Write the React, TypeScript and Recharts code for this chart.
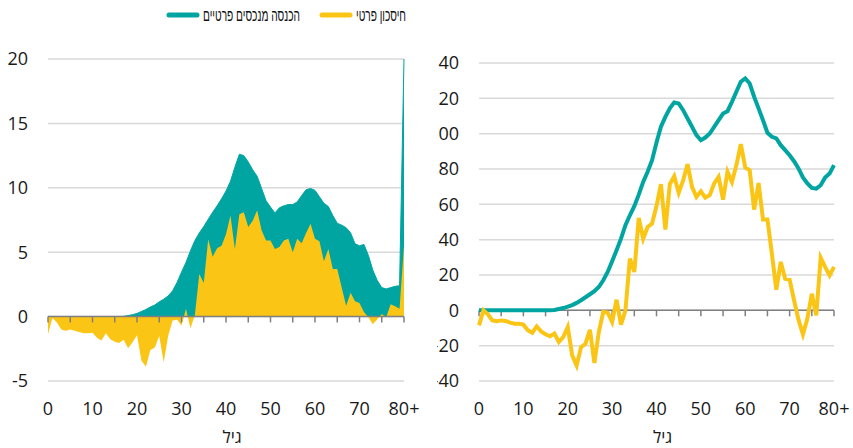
import { ComposedChart, Area, Line, XAxis, YAxis, CartesianGrid, ReferenceLine } from "recharts";

const TEAL = "#00a5a2";
const YELLOW = "#fac515";
const AXIS = "#808080";
const GRID = "#d9d9d9";
const TEXT = "#1a1a1a";
const FONT = "'Open Sans', sans-serif";

const AGES = [
  0, 1, 2, 3, 4, 5, 6, 7, 8, 9, 10, 11, 12, 13, 14, 15, 16, 17, 18, 19, 20,
  21, 22, 23, 24, 25, 26, 27, 28, 29, 30, 31, 32, 33, 34, 35, 36, 37, 38, 39, 40,
  41, 42, 43, 44, 45, 46, 47, 48, 49, 50, 51, 52, 53, 54, 55, 56, 57, 58, 59, 60,
  61, 62, 63, 64, 65, 66, 67, 68, 69, 70, 71, 72, 73, 74, 75, 76, 77, 78, 79, 80,
];

// left panel
const LEFT_INCOME = [
  0, 0, 0, 0, 0, 0, 0, 0, 0, 0, 0, 0, 0, 0, 0, 0, 0, 0.02, 0.08, 0.15, 0.25,
  0.4, 0.55, 0.75, 0.9, 1.15, 1.35, 1.6, 2.0, 2.65, 3.45, 4.2, 5.1, 5.9, 6.5, 7.0, 7.55, 8.1, 8.6, 9.15, 9.75,
  10.5, 11.6, 12.6, 12.5, 12.0, 11.4, 10.9, 9.95, 9.0, 8.5, 8.05, 8.45, 8.6, 8.7, 8.7, 8.9, 9.4, 9.85, 9.95, 9.8,
  9.3, 8.8, 8.55, 7.85, 7.25, 7.1, 6.9, 6.5, 5.65, 5.5, 5.6, 4.75, 3.6, 2.8, 2.25, 2.15, 2.25, 2.35, 2.4, 20,
];
const LEFT_SAVINGS = [
  -1.35, -0.1, -0.45, -1.0, -1.1, -1.0, -1.1, -1.2, -1.3, -1.3, -1.25, -1.65, -1.85, -1.3, -1.75, -1.95, -2.05, -1.8, -2.45, -2.0, -1.45,
  -3.4, -3.9, -2.6, -2.4, -1.5, -3.55, -1.5, -0.3, -0.25, -0.7, 0.6, -0.9, 0.1, 3.3, 2.6, 6.0, 4.65, 5.3, 5.5, 6.4,
  7.85, 5.25, 7.95, 8.1, 6.95, 7.45, 8.25, 6.7, 5.9, 5.9, 5.25, 5.4, 5.9, 6.05, 5.0, 6.05, 5.7, 6.5, 7.2, 6.05,
  5.85, 4.3, 5.25, 3.7, 3.7, 2.25, 0.85, 1.85, 1.2, 1.05, 0.35, -0.05, -0.6, -0.2, 0.2, -0.05, 0.95, 0.8, 0.6, 5.5,
];

// right panel
const RIGHT_INCOME = [
  0, 0, 0, 0, 0, 0, 0, 0, 0, 0, 0, 0, 0, 0, 0, 0, 0, 0.2, 0.75, 1.3, 2.1,
  3, 4.2, 5.7, 7.4, 9.1, 10.8, 13.2, 17, 21.7, 27.8, 34, 40.6, 48.2, 53.8, 59, 65.5, 72.7, 78.4, 85, 95,
  103.9, 109.5, 114.3, 117.7, 117.1, 113.3, 108.6, 103.9, 99.2, 96.3, 97.8, 100.1, 103.9, 107.6, 111.4, 112.7, 118, 123.7, 129.4, 131.3,
  128.4, 120.9, 114.3, 107.6, 100.5, 98.2, 97.3, 93.5, 90.7, 87.8, 84.4, 80.3, 75.2, 71.8, 69.3, 68.9, 70.8, 75.2, 77.4, 82.2,
];
const RIGHT_SAVINGS = [
  -8.5, 0, -2.3, -5.7, -6.2, -5.7, -6, -7, -7.6, -7.6, -8.1, -11.3, -12.7, -9.1, -11.9, -13.6, -14.7, -13.2, -17.9, -15.1, -9.4,
  -25.5, -31.2, -20.8, -18.9, -11, -29.8, -12.3, -0.9, -1.3, -6.6, 6, -8.1, 0, 29.3, 21.7, 52.3, 40.6, 47.2, 49.1, 59,
  71.4, 45.7, 71.4, 75.9, 66.5, 73.6, 82.7, 69.9, 64.2, 67.4, 63.8, 65.2, 71.8, 75.5, 62.7, 78.4, 72.7, 82.2, 94.1, 80.8,
  79.3, 57, 72.1, 51.4, 51.4, 32.1, 11.7, 27.4, 17.9, 17.4, 5.7, -5.3, -13.6, -4.7, 9.4, -2.8, 29.8, 24.6, 19.8, 24.6,
];

const X_TICKS = [0, 10, 20, 30, 40, 50, 60, 70, 80];
const MINOR_X_TICKS = [0, 5, 10, 15, 20, 25, 30, 35, 40, 45, 50, 55, 60, 65, 70, 75, 80];
const LEFT_Y_TICKS = [-5, 0, 5, 10, 15, 20];
const RIGHT_Y_TICKS = [-40, -20, 0, 20, 40, 60, 80, 100, 120, 140];

const LEGEND = [
  { name: "הכנסה מנכסים פרטיים", color: TEAL, x: 167, textWidth: 97 },
  { name: "חיסכון פרטי", color: YELLOW, x: 320, textWidth: 50 },
];

const leftData = AGES.map((age, i) => ({ age, income: LEFT_INCOME[i], savings: LEFT_SAVINGS[i] }));
const rightData = AGES.map((age, i) => ({ age, income: RIGHT_INCOME[i], savings: RIGHT_SAVINGS[i] }));

const ageLabel = (v: number) => (v === 80 ? "80+" : String(v));
const tickStyle = { fill: TEXT, fontSize: 18, fontFamily: FONT };

function Legend() {
  return (
    <svg width={853} height={30} style={{ position: "absolute", left: 0, top: 0 }}>
      {LEGEND.map((item) => (
        <g key={item.name}>
          <line x1={item.x + 2} y1={15} x2={item.x + 30} y2={15} stroke={item.color} strokeWidth={5} strokeLinecap="round" />
          <text
            x={item.x + 36}
            y={21}
            fontSize={17}
            fontFamily="'Liberation Sans', Arial, sans-serif"
            fill="#111"
            textLength={item.textWidth}
            lengthAdjust="spacingAndGlyphs"
          >
            {item.name}
          </text>
        </g>
      ))}
    </svg>
  );
}

export default function App() {
  return (
    <div style={{ position: "absolute", left: 0, top: 0, width: 853, height: 448, background: "#fff", overflow: "hidden" }}>
      <Legend />

      <div style={{ position: "absolute", left: 0, top: 0 }}>
        <ComposedChart width={426} height={448} data={leftData} margin={{ top: 59, right: 22, bottom: 0, left: 0 }}>
          <CartesianGrid vertical={false} stroke={GRID} strokeWidth={1.5} />
          <XAxis
            dataKey="age"
            type="number"
            domain={[0, 80]}
            ticks={X_TICKS}
            interval={0}
            tickFormatter={ageLabel}
            axisLine={false}
            tickLine={false}
            tickSize={0}
            tickMargin={21}
            height={67}
            tick={tickStyle}
            label={{ value: "גיל", position: "insideBottom", offset: 5, dx: 6, fill: TEXT, fontSize: 17, fontFamily: FONT }}
          />
          <YAxis
            type="number"
            domain={[-5, 20]}
            ticks={LEFT_Y_TICKS}
            width={48}
            axisLine={false}
            tickLine={false}
            tickSize={0}
            tickMargin={20}
            tick={tickStyle}
          />
          <Area type="linear" dataKey="income" baseValue={0} stroke={TEAL} strokeWidth={1} fill={TEAL} fillOpacity={1} dot={false} activeDot={false} isAnimationActive={false} />
          <Area type="linear" dataKey="savings" baseValue={0} stroke="none" fill={YELLOW} fillOpacity={1} dot={false} activeDot={false} isAnimationActive={false} />
          <ReferenceLine y={0} stroke={AXIS} strokeWidth={1.5} />
          {MINOR_X_TICKS.map((a) => (
            <ReferenceLine key={a} segment={[{ x: a, y: 0 }, { x: a, y: -0.45 }]} stroke={AXIS} strokeWidth={1.5} />
          ))}
        </ComposedChart>
      </div>

      <div style={{ position: "absolute", left: 437, top: 0, width: 416, height: 448, overflow: "hidden" }}>
        <ComposedChart width={416} height={448} data={rightData} margin={{ top: 63, right: 19, bottom: 0, left: 0 }}>
          <CartesianGrid vertical={false} stroke={GRID} strokeWidth={1.5} />
          <XAxis
            dataKey="age"
            type="number"
            domain={[0, 80]}
            ticks={X_TICKS}
            interval={0}
            tickFormatter={ageLabel}
            axisLine={false}
            tickLine={false}
            tickSize={0}
            tickMargin={21}
            height={67}
            tick={tickStyle}
            label={{ value: "גיל", position: "insideBottom", offset: 5, dx: 6, fill: TEXT, fontSize: 17, fontFamily: FONT }}
          />
          <YAxis
            type="number"
            domain={[-40, 140]}
            ticks={RIGHT_Y_TICKS}
            width={42}
            axisLine={false}
            tickLine={false}
            tickSize={0}
            tickMargin={20}
            tick={tickStyle}
          />
          <ReferenceLine y={0} stroke={AXIS} strokeWidth={1.5} />
          {MINOR_X_TICKS.map((a) => (
            <ReferenceLine key={a} segment={[{ x: a, y: 0 }, { x: a, y: -3.4 }]} stroke={AXIS} strokeWidth={1.5} />
          ))}
          <Line type="linear" dataKey="income" stroke={TEAL} strokeWidth={4} dot={false} activeDot={false} isAnimationActive={false} />
          <Line type="linear" dataKey="savings" stroke={YELLOW} strokeWidth={4} dot={false} activeDot={false} isAnimationActive={false} />
        </ComposedChart>
      </div>
    </div>
  );
}
